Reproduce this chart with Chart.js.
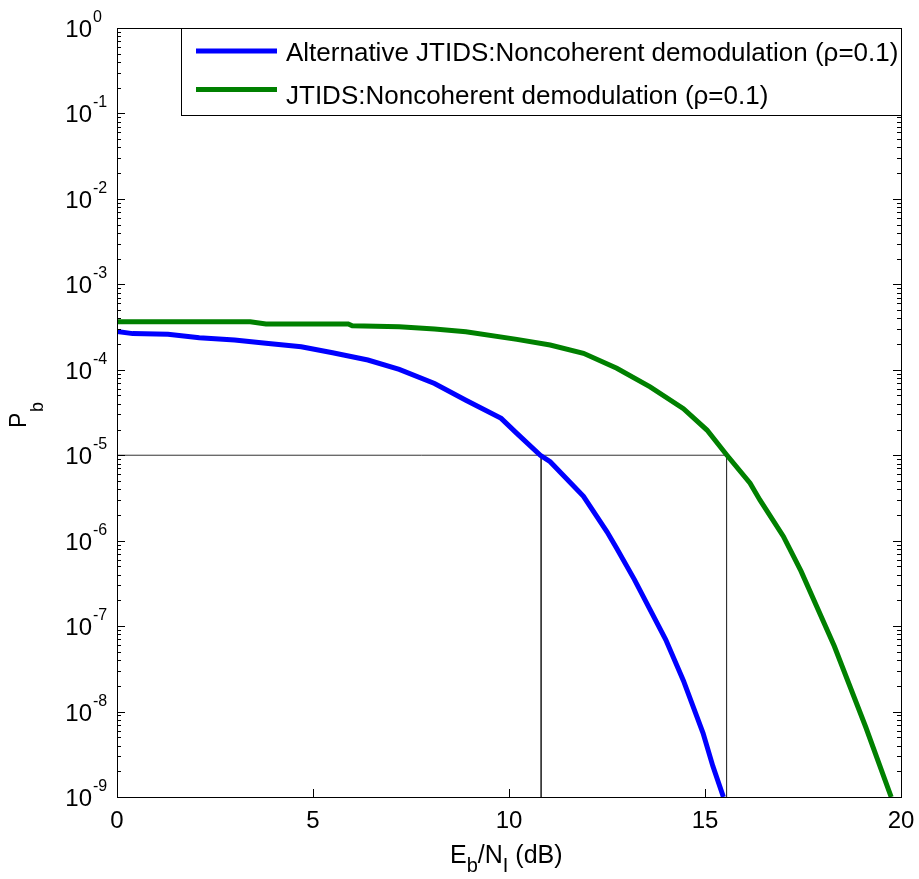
<!DOCTYPE html>
<html>
<head>
<meta charset="utf-8">
<script src="https://cdn.jsdelivr.net/npm/chart.js@4/dist/chart.umd.min.js"></script>
<style>
  html, body { margin: 0; padding: 0; background: #fff; }
  #wrap { width: 919px; height: 879px; }
</style>
</head>
<body>
<div id="wrap"><canvas id="pb"></canvas></div>
<script>
// Eb/NI (dB) and Pb
const altX = [0, 0.4, 1.3, 2.1, 3.0, 3.8, 4.7, 5.5, 6.4, 7.2, 8.1, 8.9, 9.8, 10.2, 10.8, 11.05, 11.9, 12.5, 12.75, 13.2, 14.0, 14.45, 14.95, 15.2, 15.47];
const altPb = [2.8e-4, 2.65e-4, 2.6e-4, 2.37e-4, 2.23e-4, 2.04e-4, 1.86e-4, 1.58e-4, 1.30e-4, 1.01e-4, 6.9e-5, 4.4e-5, 2.7e-5, 1.8e-5, 1.0e-5, 8.4e-6, 3.3e-6, 1.27e-6, 8.1e-7, 3.5e-7, 6.9e-8, 2.3e-8, 5.6e-9, 2.3e-9, 1e-9];

const jtX = [0, 3.4, 3.8, 5.9, 6.0, 7.2, 8.1, 8.9, 10.2, 11.05, 11.9, 12.75, 13.6, 14.45, 15.05, 15.56, 16.15, 16.4, 17.0, 17.45, 18.3, 19.1, 19.75];
const jtPb = [3.65e-4, 3.65e-4, 3.44e-4, 3.44e-4, 3.28e-4, 3.19e-4, 3.0e-4, 2.79e-4, 2.27e-4, 1.95e-4, 1.56e-4, 1.04e-4, 6.3e-5, 3.5e-5, 1.97e-5, 1.0e-5, 4.7e-6, 3.0e-6, 1.12e-6, 4.4e-7, 5.8e-8, 6.6e-9, 1e-9];

// guide lines at Pb = 1e-5
const guideX = [0, 15.55, 15.55];
const guideY = [1e-5, 1e-5, 1e-9];
const guide2X = [10.82, 10.82];
const guide2Y = [1e-5, 1e-9];

const seriesNames = ['Alternative JTIDS:Noncoherent demodulation (\u03C1=0.1)', 'JTIDS:Noncoherent demodulation (\u03C1=0.1)'];
const xTicks = [0, 5, 10, 15, 20];
const yExp = [0, -1, -2, -3, -4, -5, -6, -7, -8, -9];

const pts = (xs, ys) => xs.map((x, i) => ({ x: x, y: ys[i] }));
const FONT = '"Liberation Sans", Arial, Helvetica, sans-serif';

const matlabAxes = {
  id: 'matlabAxes',
  afterDatasetsDraw(chart) {
    const ctx = chart.ctx;
    const a = chart.chartArea;
    const xs = chart.scales.x, ys = chart.scales.y;
    ctx.save();
    ctx.strokeStyle = '#000';
    ctx.lineWidth = 1;
    ctx.strokeRect(Math.round(a.left) + 0.5, Math.round(a.top) + 0.5, Math.round(a.right - a.left), Math.round(a.bottom - a.top));

    // x ticks (inward, bottom and top)
    ctx.beginPath();
    xTicks.forEach(v => {
      const px = Math.round(xs.getPixelForValue(v)) + 0.5;
      ctx.moveTo(px, a.bottom); ctx.lineTo(px, a.bottom - 8);
      ctx.moveTo(px, a.top); ctx.lineTo(px, a.top + 8);
    });
    // y ticks, major and minor
    yExp.forEach(e => {
      const py = Math.round(ys.getPixelForValue(Math.pow(10, e))) + 0.5;
      ctx.moveTo(a.left, py); ctx.lineTo(a.left + 8, py);
      ctx.moveTo(a.right, py); ctx.lineTo(a.right - 8, py);
      if (e > -9) {
        for (let m = 2; m <= 9; m++) {
          const pm = Math.round(ys.getPixelForValue(m * Math.pow(10, e - 1))) + 0.5;
          ctx.moveTo(a.left, pm); ctx.lineTo(a.left + 4, pm);
          ctx.moveTo(a.right, pm); ctx.lineTo(a.right - 4, pm);
        }
      }
    });
    ctx.stroke();

    ctx.fillStyle = '#000';
    // x tick labels
    ctx.font = '24px ' + FONT;
    ctx.textAlign = 'center';
    ctx.textBaseline = 'alphabetic';
    xTicks.forEach(v => ctx.fillText(String(v), xs.getPixelForValue(v), a.bottom + 31));

    // y tick labels 10^e
    yExp.forEach(e => {
      const py = ys.getPixelForValue(Math.pow(10, e));
      ctx.font = '24px ' + FONT;
      ctx.textAlign = 'right';
      ctx.textBaseline = 'alphabetic';
      ctx.fillText('10', 92, py + 9);
      ctx.font = '16px ' + FONT;
      ctx.textAlign = 'left';
      ctx.fillText(String(e), 93, py - 6);
    });

    // x title: Eb/NI (dB)
    ctx.textBaseline = 'alphabetic';
    ctx.textAlign = 'left';
    const parts = [['E', 25, 0], ['b', 20, 9], ['/N', 25, 0], ['I', 20, 9], [' (dB)', 25, 0]];
    let cx = 450;
    parts.forEach(p => {
      ctx.font = p[1] + 'px ' + FONT;
      ctx.fillText(p[0], cx, 863 + p[2]);
      cx += ctx.measureText(p[0]).width;
    });

    // y title: Pb
    ctx.save();
    ctx.rotate(-Math.PI / 2);
    ctx.textAlign = 'left';
    ctx.font = '23px ' + FONT;
    ctx.fillText('P', -428, 26);
    ctx.font = '18px ' + FONT;
    ctx.fillText('b', -412, 43);
    ctx.restore();

    // legend box
    const lx = 181, ly = 28, lr = Math.round(a.right);
    ctx.fillStyle = '#fff';
    ctx.fillRect(lx, ly, lr - lx, 87);
    ctx.strokeStyle = '#000';
    ctx.lineWidth = 1;
    ctx.strokeRect(lx + 0.5, ly + 0.5, lr - lx, 87);
    [0, 1].forEach(i => {
      const ds = chart.data.datasets[i];
      const ry = 51 + i * 38.5;
      ctx.strokeStyle = ds.borderColor;
      ctx.lineWidth = 5;
      ctx.beginPath();
      ctx.moveTo(196, ry); ctx.lineTo(277, ry);
      ctx.stroke();
      ctx.fillStyle = '#000';
      ctx.font = '26px ' + FONT;
      ctx.textAlign = 'left';
      ctx.textBaseline = 'alphabetic';
      ctx.fillText(ds.label, 286, 61 + i * 42.5);
    });
    ctx.restore();
  }
};

new Chart(document.getElementById('pb'), {
  type: 'line',
  data: {
    datasets: [
      { label: seriesNames[0], data: pts(altX, altPb), borderColor: '#0000ff', borderWidth: 5 },
      { label: seriesNames[1], data: pts(jtX, jtPb), borderColor: '#008000', borderWidth: 5 },
      { label: 'guide', data: pts(guideX, guideY), borderColor: '#333', borderWidth: 1 },
      { label: 'guide2', data: pts(guide2X, guide2Y), borderColor: '#333', borderWidth: 1 }
    ]
  },
  options: {
    responsive: true,
    maintainAspectRatio: false,
    animation: false,
    elements: { point: { radius: 0 }, line: { tension: 0 } },
    layout: { padding: { left: 117, right: 18, top: 28, bottom: 82 } },
    scales: {
      x: { type: 'linear', min: 0, max: 20, display: false },
      y: { type: 'logarithmic', min: 1e-9, max: 1, display: false }
    },
    plugins: { legend: { display: false }, tooltip: { enabled: false } }
  },
  plugins: [matlabAxes]
});
</script>
</body>
</html>
